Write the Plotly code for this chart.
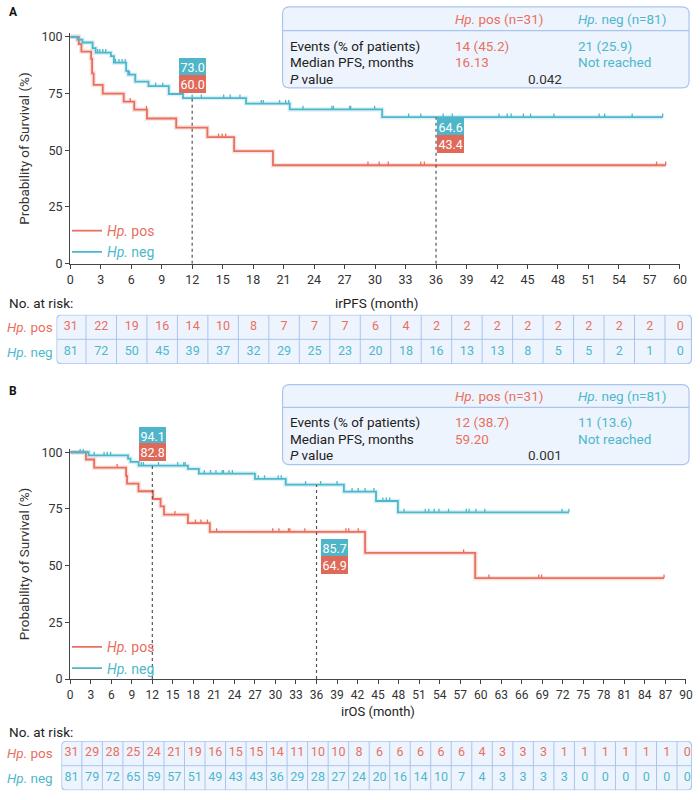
import numpy as np
import plotly.graph_objects as go

RED = "#E8705F"
TEAL = "#4DB8CC"
RED_BOX = "#E06A5A"
TEAL_BOX = "#4FB5C8"
DARK = "#333333"
BOX_FILL = "#EEF4FD"
BOX_LINE = "#A9C5EF"
FONT = "Roboto"

# ---------------- panel A: irPFS ----------------
a_pos_times = [0.84, 1.1, 2.05, 2.15, 2.3, 3.2, 5.26, 6.3, 7.55, 10.43, 13.5, 16.13, 19.95]
a_pos_surv = [96.8, 93.5, 90.3, 83.9, 78.8, 75.0, 71.4, 67.9, 64.0, 60.0, 55.8, 49.6, 43.4]
a_pos_end = 58.6
a_pos_censor = [5.9, 7.5, 14.6, 14.95, 15.3, 29.3, 30.4, 31.3, 34.5, 34.85, 57.7, 58.6]

a_neg_times = [0.7, 1.2, 2.2, 2.5, 4.0, 4.3, 5.5, 5.7, 6.4, 7.7, 9.7, 11.1, 17.3, 21.6, 30.7]
a_neg_surv = [98.8, 97.5, 95.0, 93.0, 91.5, 88.6, 85.0, 83.3, 80.3, 78.3, 74.8, 73.0, 70.6, 68.0, 64.6]
a_neg_end = 58.3
a_neg_censor = [2.7, 2.9, 3.2, 3.5, 4.45, 4.8, 5.1, 5.4, 5.84, 8.4, 9.1, 12.0, 12.9, 15.1, 15.75,
                16.7, 18.8, 19.0, 20.6, 21.2, 21.5, 22.9, 25.75, 25.9, 27.5, 27.6, 29.95, 33.3,
                34.5, 36.7, 37.6, 42.2, 43.0, 43.4, 44.6, 45.3, 47.6, 52.05, 52.6, 55.3, 58.3]

a_months = [0, 3, 6, 9, 12, 15, 18, 21, 24, 27, 30, 33, 36, 39, 42, 45, 48, 51, 54, 57, 60]
a_risk_pos = [31, 22, 19, 16, 14, 10, 8, 7, 7, 7, 6, 4, 2, 2, 2, 2, 2, 2, 2, 2, 0]
a_risk_neg = [81, 72, 50, 45, 39, 37, 32, 29, 25, 23, 20, 18, 16, 13, 13, 8, 5, 5, 2, 1, 0]

a_landmarks = [12, 36]
a_land_pos = [60.0, 43.4]
a_land_neg = [73.0, 64.6]

a_stats_pos = ["14 (45.2)", "16.13"]
a_stats_neg = ["21 (25.9)", "Not reached"]
a_pvalue = "0.042"

# ---------------- panel B: irOS ----------------
b_pos_times = [2.3, 3.5, 8.16, 8.3, 9.98, 12.1, 13.2, 13.7, 17.2, 20.4, 43.1, 59.2]
b_pos_surv = [96.8, 93.2, 89.6, 86.2, 82.8, 79.4, 76.1, 72.5, 68.8, 64.9, 55.6, 44.5]
b_pos_end = 86.8
b_pos_censor = [6.86, 15.3, 18.3, 19.1, 20.05, 21.4, 29.6, 30.5, 31.9, 32.1, 34.3, 40.3, 40.7,
                42.1, 57.5, 61.2, 68.5, 68.9, 86.8]

b_neg_times = [2.7, 8.45, 8.8, 10.0, 17.2, 18.8, 27.0, 31.5, 40.0, 44.7, 47.9]
b_neg_surv = [98.6, 97.2, 95.8, 94.1, 92.7, 90.6, 88.3, 85.7, 82.6, 78.5, 73.5]
b_neg_end = 72.9
b_neg_censor = [1.44, 1.9, 3.5, 4.95, 5.4, 5.9, 10.4, 10.7, 12.9, 15.7, 16.6, 16.8, 19.6, 20.5,
                21.3, 22.2, 22.4, 23.2, 23.7, 27.5, 28.4, 30.4, 30.85, 34.4, 36.6, 39.0, 41.2,
                42.1, 43.1, 44.4, 45.7, 46.2, 46.7, 48.8, 51.9, 52.4, 53.2, 53.9, 55.3, 57.9,
                58.3, 59.3, 60.6, 71.9, 72.9]

b_months = [0, 3, 6, 9, 12, 15, 18, 21, 24, 27, 30, 33, 36, 39, 42, 45, 48, 51, 54, 57, 60,
            63, 66, 69, 72, 75, 78, 81, 84, 87, 90]
b_risk_pos = [31, 29, 28, 25, 24, 21, 19, 16, 15, 15, 14, 11, 10, 10, 8, 6, 6, 6, 6, 6, 4,
              3, 3, 3, 1, 1, 1, 1, 1, 1, 0]
b_risk_neg = [81, 79, 72, 65, 59, 57, 51, 49, 43, 43, 36, 29, 28, 27, 24, 20, 16, 14, 10, 7, 4,
              3, 3, 3, 3, 0, 0, 0, 0, 0, 0]

b_landmarks = [12, 36]
b_land_pos = [82.8, 64.9]
b_land_neg = [94.1, 85.7]

b_stats_pos = ["12 (38.7)", "59.20"]
b_stats_neg = ["11 (13.6)", "Not reached"]
b_pvalue = "0.001"

n_pos, n_neg = 31, 81
stats_labels = ["Events (% of patients)", "Median PFS, months", "<i>P</i> value"]


def X(px):
    return px / 700


def Y(py):
    return 1 - py / 800


def rounded_path(x0, x1, y0, y1, rx, ry):
    return (f"M{x0 + rx},{y0} L{x1 - rx},{y0} Q{x1},{y0} {x1},{y0 + ry} "
            f"L{x1},{y1 - ry} Q{x1},{y1} {x1 - rx},{y1} L{x0 + rx},{y1} "
            f"Q{x0},{y1} {x0},{y1 - ry} L{x0},{y0 + ry} Q{x0},{y0} {x0 + rx},{y0} Z")


def note(px, py, text, size=13.5, color="#222222", anchor="left"):
    # free text placed in page pixels
    return dict(x=X(px), y=Y(py), xref="paper", yref="paper", xanchor=anchor, yanchor="middle",
                text=text, showarrow=False, font=dict(size=size, color=color))


fig = go.Figure()
shapes = []
annotations = []


def add_km(times, surv, end, censor, color, name, xa, ya, legend):
    x = [0] + times + [end]
    y = [100] + surv + [surv[-1]]
    fig.add_trace(go.Scatter(x=x, y=y, mode="lines", line=dict(color=color, width=4.5, shape="hv"),
                             opacity=0.2, xaxis=xa, yaxis=ya, showlegend=False, hoverinfo="skip"))
    fig.add_trace(go.Scatter(x=x, y=y, mode="lines", line=dict(color=color, width=1.8, shape="hv"),
                             xaxis=xa, yaxis=ya, name=name, legend=legend))
    idx = np.searchsorted(times, censor, side="right") - 1
    cy = [100 if i < 0 else surv[i] for i in idx]
    fig.add_trace(go.Scatter(x=censor, y=cy, mode="markers", marker=dict(size=2, opacity=0),
                             error_y=dict(type="constant", value=1.6, valueminus=0, symmetric=False,
                                          width=0, thickness=1.3, color=color),
                             xaxis=xa, yaxis=ya, showlegend=False, hoverinfo="skip"))


def add_panel(pos, neg, months, risk_pos, risk_neg, landmarks, land_pos, land_neg,
              stats_pos, stats_neg, pvalue, ax, tab, legend, cell_off, rx, label_shift,
              label_x, stats_rows, stats_box):
    xa, ya = ax
    tx, ty = tab
    add_km(*pos, RED, f'<span style="color:{RED}"><i>Hp.</i> pos</span>', xa, ya, legend)
    add_km(*neg, TEAL, f'<span style="color:{TEAL}"><i>Hp.</i> neg</span>', xa, ya, legend)

    # landmark dotted lines + value boxes
    for i, t in enumerate(landmarks):
        fig.add_trace(go.Scatter(x=[t, t], y=[0, land_neg[i]], mode="lines",
                                 line=dict(color="#555555", width=1.2, dash="dot"),
                                 xaxis=xa, yaxis=ya, showlegend=False, hoverinfo="skip"))
        s_neg, s_pos = label_shift[i]
        anchor, xshift = label_x[i]
        for val, sh, col in [(land_neg[i], s_neg, TEAL_BOX), (land_pos[i], s_pos, RED_BOX)]:
            annotations.append(dict(x=t, y=land_neg[i], xref=xa, yref=ya, text=f"{val:.1f}",
                                    showarrow=False, xanchor=anchor, yanchor="middle",
                                    xshift=xshift, yshift=sh, bgcolor=col, bordercolor=col,
                                    borderpad=0.5, font=dict(color="white", size=12.5)))

    # number at risk table
    cx = [m + cell_off for m in months]
    fig.add_trace(go.Scatter(x=cx, y=[1.5] * len(months), text=[str(v) for v in risk_pos],
                             mode="text", textfont=dict(color=RED, size=12.5), cliponaxis=False,
                             xaxis=tx, yaxis=ty, showlegend=False, hoverinfo="skip"))
    fig.add_trace(go.Scatter(x=cx, y=[0.5] * len(months), text=[str(v) for v in risk_neg],
                             mode="text", textfont=dict(color=TEAL, size=12.5), cliponaxis=False,
                             xaxis=tx, yaxis=ty, showlegend=False, hoverinfo="skip"))
    rng = fig.layout[tx.replace("x", "xaxis")].range
    shapes.append(dict(type="path", xref=tx, yref=ty, layer="below",
                       path=rounded_path(rng[0] + 0.02, rng[1] - 0.05, 0.01, 1.99, rx, 0.2),
                       fillcolor=BOX_FILL, line=dict(color=BOX_LINE, width=1.2)))
    for m in months[:-1]:
        shapes.append(dict(type="line", xref=tx, yref=ty, x0=m + cell_off + 1.5,
                           x1=m + cell_off + 1.5, y0=0.01, y1=1.99,
                           line=dict(color=BOX_LINE, width=1)))
    shapes.append(dict(type="line", xref=tx, yref=ty, x0=rng[0] + 0.02, x1=rng[1] - 0.05,
                       y0=1, y1=1, line=dict(color=BOX_LINE, width=1)))
    for yy, nm, col in [(1.5, "pos", RED), (0.5, "neg", TEAL)]:
        annotations.append(dict(x=X(52), y=yy, xref="paper", yref=ty, xanchor="right",
                                yanchor="middle", text=f"<i>Hp.</i> {nm}", showarrow=False,
                                font=dict(color=col, size=13.5)))

    # stats box
    bx0, bx1, by0, by1, bdiv = stats_box
    shapes.append(dict(type="path", xref="paper", yref="paper", layer="below",
                       path=rounded_path(X(bx0), X(bx1), Y(by1), Y(by0), X(7), 7 / 800),
                       fillcolor=BOX_FILL, line=dict(color=BOX_LINE, width=1.2)))
    shapes.append(dict(type="line", xref="paper", yref="paper", x0=X(bx0), x1=X(bx1),
                       y0=Y(bdiv), y1=Y(bdiv), line=dict(color=BOX_LINE, width=1.2)))
    hy, r1, r2, r3 = stats_rows
    annotations.append(note(456, hy, f"<i>Hp.</i> pos (n={n_pos})", color=RED))
    annotations.append(note(581, hy, f"<i>Hp.</i> neg (n={n_neg})", color=TEAL))
    for lbl, ry in zip(stats_labels, [r1, r2, r3]):
        annotations.append(note(289, ry, lbl))
    for v_pos, v_neg, ry in zip(stats_pos, stats_neg, [r1, r2]):
        annotations.append(note(456, ry, v_pos, color=RED))
        annotations.append(note(581, ry, v_neg, color=TEAL))
    annotations.append(note(569, r3, pvalue, color=DARK, anchor="right"))


axis_common = dict(showgrid=False, zeroline=False, showline=True, linecolor="#444444",
                   linewidth=1.3, ticks="outside", ticklen=4, tickcolor="#444444",
                   tickfont=dict(size=12.5, color=DARK))
hidden = dict(visible=False, showgrid=False, zeroline=False, fixedrange=True)

fig.update_layout(
    xaxis=dict(axis_common, domain=[X(67.3), X(686.7)], range=[0, 60], tickvals=a_months, anchor="y"),
    yaxis=dict(axis_common, domain=[Y(263.3), Y(29.85)], range=[0, 101.5], tickvals=[0, 25, 50, 75, 100],
               anchor="x", title=dict(text="Probability of Survival (%)", font=dict(size=13.5, color=DARK),
                                      standoff=8)),
    xaxis2=dict(axis_common, domain=[X(67.3), X(692.8)], range=[0, 90], tickvals=b_months, anchor="y2",
                tickfont=dict(size=12, color=DARK)),
    yaxis2=dict(axis_common, domain=[Y(684.5), Y(451.05)], range=[0, 101.5], tickvals=[0, 25, 50, 75, 100],
                anchor="x2", title=dict(text="Probability of Survival (%)", font=dict(size=13.5, color=DARK),
                                        standoff=8)),
    xaxis3=dict(hidden, domain=[X(53.3), X(699)], range=[-1.357, 61.21], anchor="y3"),
    yaxis3=dict(hidden, domain=[Y(365), Y(315)], range=[0, 2], anchor="x3"),
    xaxis4=dict(hidden, domain=[X(58.3), X(699)], range=[-1.295, 90.89], anchor="y4"),
    yaxis4=dict(hidden, domain=[Y(797.3), Y(747.3)], range=[0, 2], anchor="x4"),
)

add_panel((a_pos_times, a_pos_surv, a_pos_end, a_pos_censor),
          (a_neg_times, a_neg_surv, a_neg_end, a_neg_censor),
          a_months, a_risk_pos, a_risk_neg, a_landmarks, a_land_pos, a_land_neg,
          a_stats_pos, a_stats_neg, a_pvalue, ("x", "y"), ("x3", "y3"), "legend",
          0.05, 0.48, [(31, 14), (-10, -27)], [("center", 0), ("left", 1)],
          (15, 42.7, 59.3, 76), (283, 696, 3, 85, 27))
add_panel((b_pos_times, b_pos_surv, b_pos_end, b_pos_censor),
          (b_neg_times, b_neg_surv, b_neg_end, b_neg_censor),
          b_months, b_risk_pos, b_risk_neg, b_landmarks, b_land_pos, b_land_neg,
          b_stats_pos, b_stats_neg, b_pvalue, ("x2", "y2"), ("x4", "y4"), "legend2",
          0.2, 0.72, [(30, 14), (-63, -80)], [("center", 0), ("left", 4)],
          (397.7, 424.3, 441, 457.3), (283, 696, 386, 467, 409))

# panel letters and axis titles
annotations += [
    note(3, 8, "<b>A</b>", size=12, color="#111111"),
    note(3, 392, "<b>B</b>", size=12, color="#111111"),
    note(3, 303, "No. at risk:"),
    note(378, 303, "irPFS (month)", anchor="center"),
    note(3, 738, "No. at risk:"),
    note(380, 717, "irOS (month)", size=13, anchor="center"),
]

legend_common = dict(xanchor="left", yanchor="top", bgcolor="rgba(0,0,0,0)", tracegroupgap=0,
                     font=dict(size=14, family=FONT), itemwidth=30)
fig.update_layout(
    width=700, height=800, autosize=False,
    margin=dict(l=0, r=0, t=0, b=0),
    paper_bgcolor="white", plot_bgcolor="white",
    font=dict(family=FONT, color=DARK),
    shapes=shapes, annotations=annotations,
    legend=dict(legend_common, x=X(64), y=Y(214)),
    legend2=dict(legend_common, x=X(64), y=Y(636)),
)

fig.write_html("out.html", config={"displayModeBar": False},
               post_script="document.body.style.margin = '0px';")
